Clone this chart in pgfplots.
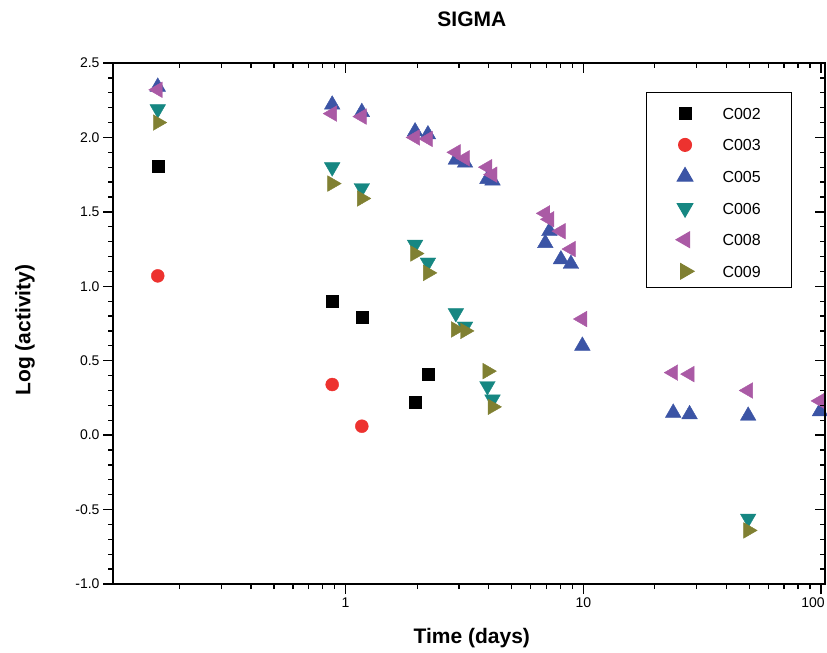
\documentclass[border=0pt]{standalone}
\usepackage{pgfplots}
\pgfplotsset{compat=1.18}
\usepackage{fontspec}
\setmainfont{Liberation Sans}

\definecolor{sBlack}{RGB}{0,0,0}
\definecolor{sRed}{RGB}{237,50,47}
\definecolor{sBlue}{RGB}{59,84,165}
\definecolor{sTeal}{RGB}{22,135,130}
\definecolor{sPurple}{RGB}{170,90,165}
\definecolor{sOlive}{RGB}{128,128,50}

\pgfplotsset{
  lg/.style={legend image code/.code={%
      \path (-38pt,0pt) (37pt,0pt);
      \draw[##1] plot coordinates {(0pt,-2.3pt)};}},
  sym/.style 2 args={only marks, color=#1, mark=#2,
      mark options={draw=none, fill=#1}},
}

% Time (days) versus log activity for each sample
\pgfplotstableread{
t      a
0.162  1.81
0.878  0.90
1.17   0.79
1.96   0.22
2.22   0.41
}\tblCtwo
\pgfplotstableread{
t      a
0.162  1.07
0.878  0.34
1.17   0.06
}\tblCthree
\pgfplotstableread{
t      a
0.162  2.34
0.878  2.22
1.17   2.17
1.96   2.04
2.22   2.02
2.91   1.85
3.18   1.83
3.95   1.72
4.15   1.71
6.92   1.29
7.20   1.37
8.05   1.18
8.87   1.15
9.91   0.60
23.9   0.15
28.0   0.14
49.4   0.13
99.1   0.16
}\tblCfive
\pgfplotstableread{
t      a
0.162  2.19
0.878  1.80
1.17   1.66
1.96   1.28
2.22   1.16
2.91   0.82
3.18   0.73
3.95   0.33
4.15   0.24
49.4  -0.56
}\tblCsix
\pgfplotstableread{
t      a
0.162  2.32
0.878  2.16
1.17   2.14
1.96   2.00
2.22   1.99
2.91   1.90
3.18   1.86
3.95   1.80
4.15   1.75
6.92   1.49
7.20   1.45
8.05   1.37
8.87   1.25
9.91   0.78
23.9   0.42
28.0   0.41
49.4   0.30
99.1   0.23
}\tblCeight
\pgfplotstableread{
t      a
0.162  2.10
0.878  1.69
1.17   1.59
1.96   1.22
2.22   1.09
2.91   0.71
3.18   0.70
3.95   0.43
4.15   0.19
49.4  -0.64
}\tblCnine

\begin{document}
\begin{tikzpicture}
\useasboundingbox (-113pt,-69pt) rectangle (714pt,584pt);
\begin{axis}[
  at={(0pt,0pt)}, anchor=south west,
  scale only axis, width=712pt, height=521pt,
  xmode=log, xmin=0.105, xmax=104,
  ymin=-1, ymax=2.5,
  axis line style={line width=1.8pt},
  every tick/.style={black, line width=1.3pt},
  major tick length=10pt, minor tick length=5pt,
  tick align=outside,
  xtick pos=left, ytick pos=left,
  xtick={1,10,100}, xticklabels={1,10,{\hspace*{-16pt}100}},
  minor xtick={0.2,0.3,0.4,0.5,0.6,0.7,0.8,0.9,2,3,4,5,6,7,8,9,20,30,40,50,60,70,80,90},
  ytick={-1,-0.5,0,0.5,1,1.5,2,2.5},
  minor y tick num=4,
  yticklabel style={/pgf/number format/.cd, fixed, fixed zerofill, precision=1},
  /pgf/number format/assume math mode=true,
  tick label style={font=\fontsize{14}{17}\selectfont},
  title={SIGMA},
  title style={font=\fontsize{21}{25}\bfseries, at={(axis description cs:0.504,1.073)}, anchor=center},
  xlabel={Time (days)},
  xlabel style={font=\fontsize{21}{25}\bfseries, at={(axis description cs:0.504,-0.1036)}, anchor=center},
  ylabel={Log (activity)},
  ylabel style={font=\fontsize{21}{25}\bfseries, at={(axis description cs:-0.1236,0.4875)}, anchor=center},
  legend style={at={(axis description cs:0.9537,0.9443)}, anchor=north east,
    draw=black, line width=1pt, inner xsep=0pt, inner ysep=4pt,
    column sep=0pt, row sep=2.6pt,
    font=\fontsize{16}{19}\selectfont,
    nodes={inner sep=0pt, text width=69pt, align=left, text height=22.7pt, text depth=6.3pt}},
  legend cell align=left,
]
\addplot[sym={sBlack}{square*}, mark size=6pt, lg] table[x=t, y=a] {\tblCtwo};
\addlegendentry{C002}
\addplot[sym={sRed}{*}, mark size=6.5pt, lg] table[x=t, y=a] {\tblCthree};
\addlegendentry{C003}
\addplot[sym={sBlue}{triangle*}, mark size=9pt, lg] table[x=t, y=a] {\tblCfive};
\addlegendentry{C005}
\addplot[sym={sTeal}{triangle*}, mark size=9pt, mark options={rotate=180}, lg] table[x=t, y=a] {\tblCsix};
\addlegendentry{C006}
\addplot[sym={sPurple}{triangle*}, mark size=9pt, mark options={rotate=90}, lg] table[x=t, y=a] {\tblCeight};
\addlegendentry{C008}
\addplot[sym={sOlive}{triangle*}, mark size=9pt, mark options={rotate=-90}, lg] table[x=t, y=a] {\tblCnine};
\addlegendentry{C009}
\end{axis}
% mirrored ticks on the top and right edges, pointing inward
\begin{axis}[
  at={(0pt,0pt)}, anchor=south west,
  scale only axis, width=712pt, height=521pt,
  xmode=log, xmin=0.105, xmax=104,
  ymin=-1, ymax=2.5,
  axis line style={line width=1.8pt},
  every tick/.style={black, line width=1.3pt},
  major tick length=10pt, minor tick length=5pt,
  tick align=inside,
  xtick pos=right, ytick pos=right,
  xtick={1,10,100}, xticklabels={},
  minor xtick={0.2,0.3,0.4,0.5,0.6,0.7,0.8,0.9,2,3,4,5,6,7,8,9,20,30,40,50,60,70,80,90},
  ytick={-1,-0.5,0,0.5,1,1.5,2,2.5}, yticklabels={},
  minor y tick num=4,
]
\end{axis}
\end{tikzpicture}
\end{document}
